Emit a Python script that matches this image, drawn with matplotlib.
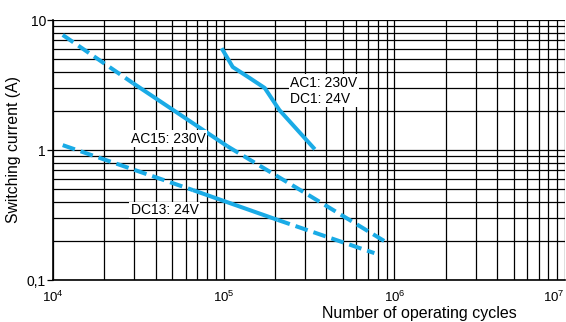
import numpy as np
import matplotlib.pyplot as plt
from matplotlib.ticker import LogLocator, FixedLocator, NullFormatter

plt.rcParams['font.family'] = ['Liberation Sans', 'DejaVu Sans']
plt.rcParams['mathtext.fontset'] = 'custom'
plt.rcParams['mathtext.rm'] = 'Liberation Sans'

blue = '#1aabe6'

# AC15: 230V  (dashed - solid - dashed)
ac15_dash1_x = [1.14e4, 2.94e4]
ac15_dash1_y = [7.67, 3.27]
ac15_solid_x = [2.94e4, 1.05e5]
ac15_solid_y = [3.27, 1.07]
ac15_dash2_x = [1.05e5, 2.9e5, 9.1e5]
ac15_dash2_y = [1.07, 0.48, 0.193]

# DC13: 24V
dc13_dash1_x = [1.14e4, 6.59e4]
dc13_dash1_y = [1.09, 0.492]
dc13_solid_x = [6.59e4, 2.07e5]
dc13_solid_y = [0.492, 0.29]
dc13_dash2_x = [2.07e5, 7.64e5]
dc13_dash2_y = [0.29, 0.161]

# AC1: 230V / DC1: 24V
ac1_x = [9.87e4, 1.13e5, 1.42e5, 1.74e5, 2.12e5, 3.36e5]
ac1_y = [5.88, 4.35, 3.58, 3.0, 2.03, 1.04]

xticks = [1e4, 1e5, 1e6, 1e7]
xtick_labels = [r'$\mathregular{10^{4}}$', r'$\mathregular{10^{5}}$',
                r'$\mathregular{10^{6}}$', r'$\mathregular{10^{7}}$']
yticks = [0.1, 1, 10]
ytick_labels = ['0,1', '1', '10']

fig = plt.figure(figsize=(5.66, 3.22), dpi=100)
ax = fig.add_axes([53 / 566, 1 - 280 / 322, 512 / 566, 260 / 322])
ax.set_xscale('log')
ax.set_yscale('log')
ax.set_xlim(1e4, 1e7)
ax.set_ylim(0.1, 10)

ax.xaxis.set_minor_locator(LogLocator(base=10, subs=np.arange(2, 10)))
ax.yaxis.set_minor_locator(LogLocator(base=10, subs=np.arange(2, 10)))
ax.xaxis.set_minor_formatter(NullFormatter())
ax.yaxis.set_minor_formatter(NullFormatter())
ax.xaxis.set_major_locator(FixedLocator(xticks))
ax.yaxis.set_major_locator(FixedLocator(yticks))
ax.set_xticklabels(xtick_labels)
ax.set_yticklabels(ytick_labels)
ax.get_xticklabels()[-1].set_horizontalalignment('right')
ax.grid(True, which='both', color='black', linewidth=0.9)
ax.set_axisbelow(True)

ax.tick_params(axis='x', which='both', length=0, labelsize=9.5, pad=7)
ax.tick_params(axis='y', which='major', length=4, width=0.9, labelsize=10, pad=1)
ax.tick_params(axis='y', which='minor', length=0)

for side in ['top', 'right']:
    ax.spines[side].set_visible(False)
for side in ['left', 'bottom']:
    ax.spines[side].set_linewidth(1.2)

lw = 2.9
dash = (0, (3.2, 1.5))
ax.plot(ac15_dash1_x, ac15_dash1_y, color=blue, lw=lw, linestyle=dash)
ax.plot(ac15_solid_x, ac15_solid_y, color=blue, lw=lw, solid_capstyle='butt')
ax.plot(ac15_dash2_x, ac15_dash2_y, color=blue, lw=lw, linestyle=dash)
ax.plot(dc13_dash1_x, dc13_dash1_y, color=blue, lw=lw, linestyle=dash)
ax.plot(dc13_solid_x, dc13_solid_y, color=blue, lw=lw, solid_capstyle='butt')
ax.plot(dc13_dash2_x, dc13_dash2_y, color=blue, lw=lw, linestyle=dash)
ax.plot(ac1_x, ac1_y, color=blue, lw=lw)

box = dict(facecolor='white', edgecolor='none', pad=1)
ax.text(2.85e4, 1.22, 'AC15: 230V', fontsize=10, ha='left', va='center', bbox=box)
ax.text(2.85e4, 0.345, 'DC13: 24V', fontsize=10, ha='left', va='center', bbox=box)
ax.text(2.45e5, 2.85, 'AC1: 230V\nDC1: 24V', fontsize=10, ha='left', va='center',
        linespacing=1.2, bbox=box)

ax.set_ylabel('Switching current (A)', fontsize=11.3, labelpad=4)
ax.set_xlabel('Number of operating cycles', fontsize=11.5, va='center')
ax.xaxis.set_label_coords(0.716, -0.127)

fig.savefig('out.png', dpi=100)
